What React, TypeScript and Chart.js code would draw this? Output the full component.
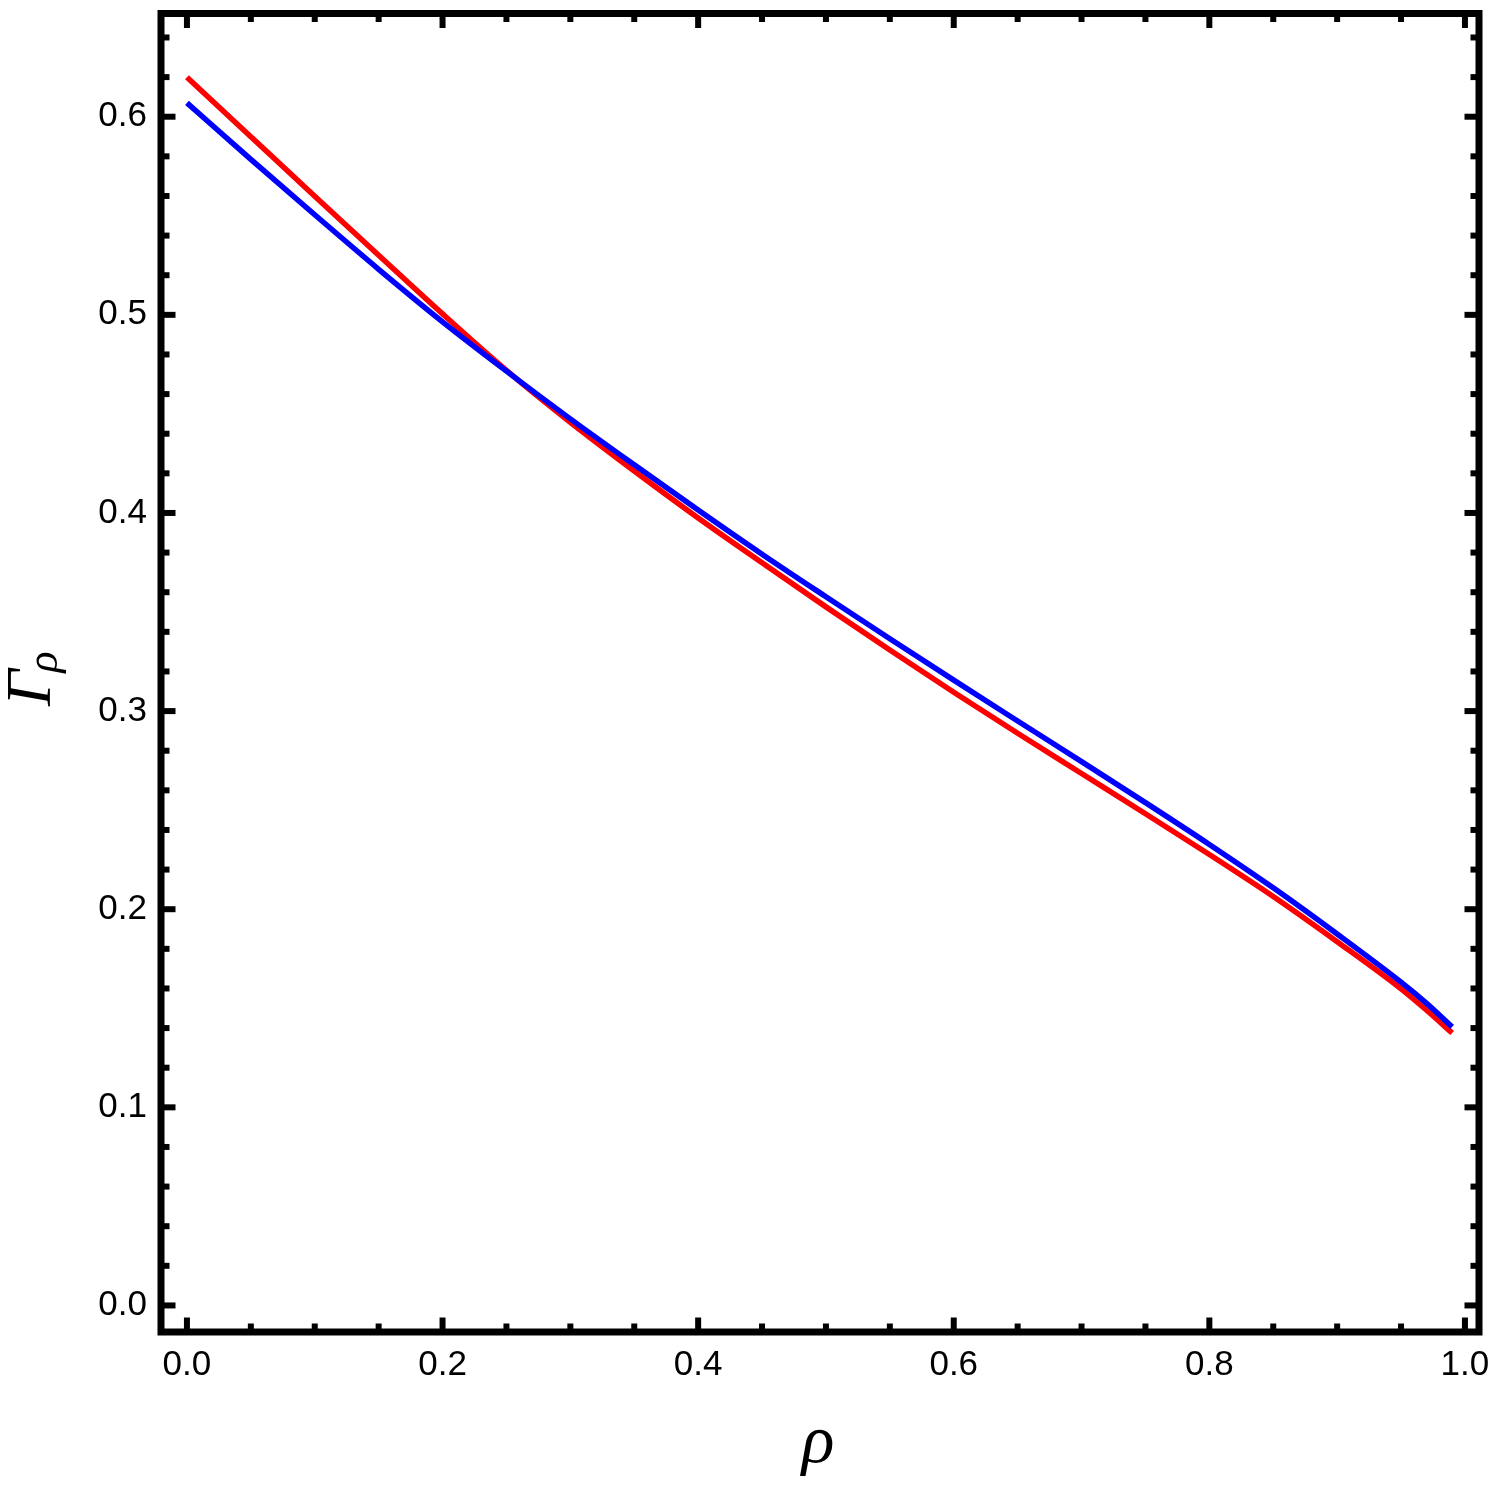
import React, { useEffect, useRef } from "react";
import { Chart, registerables } from "chart.js";

Chart.register(...registerables);

const rho = [0, 0.05, 0.1, 0.15, 0.2, 0.25, 0.3, 0.35, 0.4, 0.45, 0.5, 0.55, 0.6, 0.65, 0.7, 0.75, 0.8, 0.85, 0.9, 0.95, 0.97, 0.99];
const gammaBlue = [0.607, 0.5785, 0.5505, 0.523, 0.4965, 0.4716, 0.4475, 0.4243, 0.4015, 0.3792, 0.3577, 0.3365, 0.3156, 0.295, 0.2745, 0.2538, 0.2327, 0.2108, 0.1875, 0.1632, 0.1525, 0.1406];
const gammaRed = [0.6199, 0.5899, 0.5599, 0.5301, 0.5005, 0.472, 0.4458, 0.4212, 0.3975, 0.3749, 0.3526, 0.3308, 0.3095, 0.2888, 0.2685, 0.2482, 0.2276, 0.2064, 0.1836, 0.1598, 0.149, 0.1375];

const xMajorTicks = [0, 0.2, 0.4, 0.6, 0.8, 1.0];
const xMinorTicks = [0.05, 0.1, 0.15, 0.25, 0.3, 0.35, 0.45, 0.5, 0.55, 0.65, 0.7, 0.75, 0.85, 0.9, 0.95];
const yMajorTicks = [0, 0.1, 0.2, 0.3, 0.4, 0.5, 0.6];
const yMinorTicks = [0.02, 0.04, 0.06, 0.08, 0.12, 0.14, 0.16, 0.18, 0.22, 0.24, 0.26, 0.28, 0.32, 0.34, 0.36, 0.38, 0.42, 0.44, 0.46, 0.48, 0.52, 0.54, 0.56, 0.58, 0.62, 0.64];

const xTitle = "ρ";
const yTitleMain = "Γ";
const yTitleSub = "ρ";

const frameTicksPlugin = {
  id: "frameTicks",
  afterDatasetsDraw(chart: any) {
    const { ctx, chartArea, scales } = chart;
    const { left, right, top, bottom } = chartArea;
    const xs = scales.x;
    const ys = scales.y;
    ctx.save();
    ctx.strokeStyle = "#000";
    ctx.lineCap = "butt";
    ctx.lineWidth = 6;
    const seg = (x1: number, y1: number, x2: number, y2: number) => {
      ctx.beginPath();
      ctx.moveTo(x1, y1);
      ctx.lineTo(x2, y2);
      ctx.stroke();
    };
    const majorLen = 14.5;
    const minorLen = 8.5;
    xMajorTicks.forEach((v) => {
      const p = xs.getPixelForValue(v);
      seg(p, bottom, p, bottom - majorLen);
      seg(p, top, p, top + majorLen);
    });
    xMinorTicks.forEach((v) => {
      const p = xs.getPixelForValue(v);
      seg(p, bottom, p, bottom - minorLen);
      seg(p, top, p, top + minorLen);
    });
    yMajorTicks.forEach((v) => {
      const p = ys.getPixelForValue(v);
      seg(left, p, left + majorLen, p);
      seg(right, p, right - majorLen, p);
    });
    yMinorTicks.forEach((v) => {
      const p = ys.getPixelForValue(v);
      seg(left, p, left + minorLen, p);
      seg(right, p, right - minorLen, p);
    });
    ctx.lineWidth = 7;
    ctx.lineJoin = "miter";
    ctx.strokeRect(left, top, right - left, bottom - top);
    ctx.restore();
  },
  afterDraw(chart: any) {
    const { ctx } = chart;
    ctx.save();
    ctx.fillStyle = "#000";
    ctx.font = "italic 68px 'Liberation Serif'";
    ctx.textAlign = "center";
    ctx.textBaseline = "alphabetic";
    ctx.fillText(xTitle, 818, 1462);
    ctx.translate(50, 706);
    ctx.rotate(-Math.PI / 2);
    ctx.textAlign = "left";
    ctx.font = "italic 64px 'Liberation Serif'";
    ctx.fillText(yTitleMain, 0, 0);
    const w = ctx.measureText(yTitleMain).width;
    ctx.font = "italic 44px 'Liberation Serif'";
    ctx.fillText(yTitleSub, w - 3, 7);
    ctx.restore();
  },
};

const zeroPad = (s: any) => {
  s.paddingLeft = 0;
  s.paddingRight = 0;
  s.paddingTop = 0;
  s.paddingBottom = 0;
};

export default function App() {
  const canvasRef = useRef<HTMLCanvasElement | null>(null);

  useEffect(() => {
    const canvas = canvasRef.current;
    if (!canvas) return;
    const tickFont = { family: "'Liberation Sans', Arial, sans-serif", size: 35 };
    const chart = new Chart(canvas, {
      type: "line",
      data: {
        datasets: [
          {
            label: "blue",
            data: rho.map((r, i) => ({ x: r, y: gammaBlue[i] })),
            borderColor: "#0000FF",
            borderWidth: 5.5,
            pointRadius: 0,
            fill: false,
            cubicInterpolationMode: "monotone",
          },
          {
            label: "red",
            data: rho.map((r, i) => ({ x: r, y: gammaRed[i] })),
            borderColor: "#FF0000",
            borderWidth: 5.5,
            pointRadius: 0,
            fill: false,
            cubicInterpolationMode: "monotone",
          },
        ],
      },
      options: {
        animation: false,
        responsive: false,
        devicePixelRatio: 1,
        layout: { padding: { left: 0, top: 13.5, right: 16, bottom: 0 } },
        plugins: { legend: { display: false }, tooltip: { enabled: false } },
        scales: {
          x: {
            type: "linear",
            min: -0.0203,
            max: 1.011,
            afterBuildTicks: (s: any) => {
              s.ticks = xMajorTicks.map((value) => ({ value }));
            },
            afterFit: (s: any) => {
              s.height = 163;
              zeroPad(s);
            },
            ticks: {
              callback: (v: any) => Number(v).toFixed(1),
              font: tickFont,
              color: "#000",
              padding: 12,
              maxRotation: 0,
              autoSkip: false,
            },
            grid: { display: false, drawTicks: false },
            border: { display: false },
          },
          y: {
            type: "linear",
            min: -0.0134,
            max: 0.6521,
            afterBuildTicks: (s: any) => {
              s.ticks = yMajorTicks.map((value) => ({ value }));
            },
            afterFit: (s: any) => {
              s.width = 161;
              zeroPad(s);
            },
            ticks: {
              callback: (v: any) => Number(v).toFixed(1),
              font: tickFont,
              color: "#000",
              padding: 14,
              autoSkip: false,
            },
            grid: { display: false, drawTicks: false },
            border: { display: false },
          },
        },
      } as any,
      plugins: [frameTicksPlugin],
    });
    return () => chart.destroy();
  }, []);

  return (
    <div style={{ position: "absolute", left: 0, top: 0, width: 1495, height: 1495, background: "#fff" }}>
      <canvas ref={canvasRef} width={1495} height={1495} style={{ display: "block" }} />
    </div>
  );
}
